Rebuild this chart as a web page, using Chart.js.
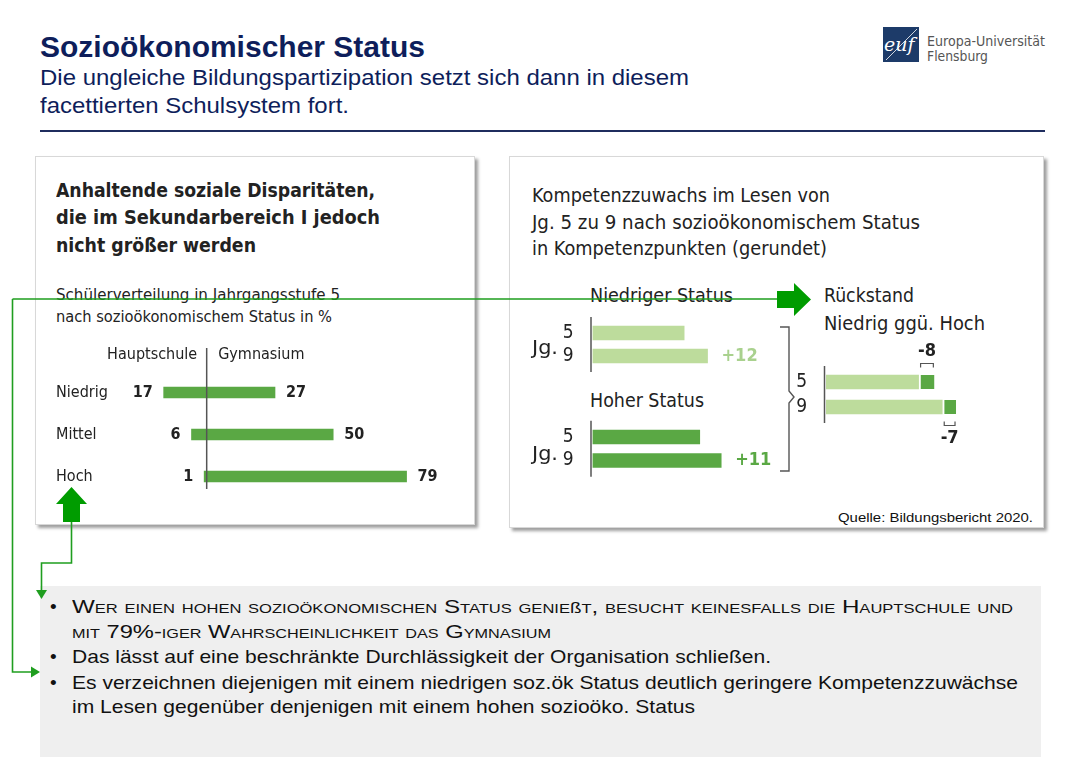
<!DOCTYPE html>
<html lang="de">
<head>
<meta charset="utf-8">
<title>Sozioökonomischer Status</title>
<script src="https://cdn.jsdelivr.net/npm/chart.js@4.4.1/dist/chart.umd.min.js"></script>
<style>
  body { margin: 0; width: 1067px; height: 769px; position: relative; overflow: hidden; background: #fff;
         font-family: "Liberation Sans", Arial, sans-serif; }
  .t { position: absolute; white-space: nowrap; line-height: 1; transform-origin: 0 50%; z-index: 3; }
  .c { font-family: "DejaVu Sans Condensed", "DejaVu Sans", sans-serif; color: #222; }
  .navy { color: #0e1e5b; }
  .box { position: absolute; box-sizing: border-box; background: #fff; border: 1px solid #d8d8d8;
         box-shadow: 3px 3px 3px rgba(0,0,0,.38); z-index: 1; }
  .cw { position: absolute; z-index: 2; }
  .sc { font-variant: small-caps; }
  .sz { font-variant: normal; font-size: 0.78em; }
  #overlay { position: absolute; left: 0; top: 0; z-index: 5; pointer-events: none; }
</style>
</head>
<body>

<!-- Kopf -->
<div class="t navy" style="left:40px;top:32.5px;font-size:29px;font-weight:bold" data-w="385">Sozioökonomischer Status</div>
<div class="t navy" style="left:40px;top:67px;font-size:22px" data-w="649">Die ungleiche Bildungspartizipation setzt sich dann in diesem</div>
<div class="t navy" style="left:40px;top:95px;font-size:22px" data-w="309">facettierten Schulsystem fort.</div>
<div style="position:absolute;left:40px;top:129.5px;width:1005px;height:2px;background:#1f2d5e"></div>

<div class="t c" style="left:927px;top:34px;font-size:14.5px;color:#555" data-w="118">Europa-Universität</div>
<div class="t c" style="left:927px;top:49px;font-size:14.5px;color:#555" data-w="61">Flensburg</div>

<!-- linke Grafik -->
<div class="box" style="left:35px;top:156px;width:440px;height:369px"></div>
<div class="t c" style="left:56px;top:180px;font-size:20px;font-weight:bold" data-w="319">Anhaltende soziale Disparitäten,</div>
<div class="t c" style="left:56px;top:207px;font-size:20px;font-weight:bold" data-w="324">die im Sekundarbereich I jedoch</div>
<div class="t c" style="left:56px;top:235px;font-size:20px;font-weight:bold" data-w="200">nicht größer werden</div>
<div class="t c" style="left:56px;top:287px;font-size:16px" data-w="284">Schülerverteilung in Jahrgangsstufe 5</div>
<div class="t c" style="left:56px;top:309px;font-size:16px" data-w="276">nach sozioökonomischem Status in %</div>
<div class="cw" style="left:50px;top:340px;width:410px;height:160px"><canvas id="verteilung"></canvas></div>

<!-- rechte Grafik -->
<div class="box" style="left:509px;top:156px;width:535px;height:372px"></div>
<div class="t c" style="left:532px;top:185.5px;font-size:19px" data-w="298">Kompetenzzuwachs im Lesen von</div>
<div class="t c" style="left:532px;top:212.5px;font-size:19px" data-w="388">Jg. 5 zu 9 nach sozioökonomischem Status</div>
<div class="t c" style="left:532px;top:238.5px;font-size:19px" data-w="295">in Kompetenzpunkten (gerundet)</div>
<div class="t c" style="left:590px;top:285.5px;font-size:19px" data-w="143">Niedriger Status</div>
<div class="t c" style="left:590px;top:390.5px;font-size:19px" data-w="114">Hoher Status</div>
<div class="t c" style="left:532px;top:337.5px;font-size:19px" data-w="26">Jg.</div>
<div class="t c" style="left:532px;top:443.5px;font-size:19px" data-w="26">Jg.</div>
<div class="t c" style="left:823.5px;top:285.5px;font-size:19px" data-w="90">Rückstand</div>
<div class="t c" style="left:823.5px;top:313.5px;font-size:19px" data-w="161">Niedrig ggü. Hoch</div>
<div class="cw" style="left:520px;top:315px;width:270px;height:60px"><canvas id="niedrig"></canvas></div>
<div class="cw" style="left:520px;top:418px;width:270px;height:60px"><canvas id="hoch"></canvas></div>
<div class="cw" style="left:790px;top:335px;width:250px;height:115px"><canvas id="rueckstand"></canvas></div>
<div class="t" style="left:838px;top:510.5px;font-size:13px;color:#111" data-w="195">Quelle: Bildungsbericht 2020.</div>

<!-- Stichpunkte -->
<div style="position:absolute;left:40px;top:586px;width:1001px;height:171px;background:#efefef"></div>
<div class="t" style="left:50px;top:596.5px;font-size:19px;color:#111">•</div>
<div class="t sc" style="left:72px;top:596.5px;font-size:19px;color:#111" data-w="941">Wer einen hohen sozioökonomischen Status genie<span class="sz">ß</span>t, besucht keinesfalls die Hauptschule und</div>
<div class="t sc" style="left:72px;top:621.5px;font-size:19px;color:#111" data-w="479">mit 79%-iger Wahrscheinlichkeit das Gymnasium</div>
<div class="t" style="left:50px;top:646.5px;font-size:19px;color:#111">•</div>
<div class="t" style="left:72px;top:646.5px;font-size:19px;color:#111" data-w="699">Das lässt auf eine beschränkte Durchlässigkeit der Organisation schließen.</div>
<div class="t" style="left:50px;top:672.5px;font-size:19px;color:#111">•</div>
<div class="t" style="left:72px;top:672.5px;font-size:19px;color:#111" data-w="946">Es verzeichnen diejenigen mit einem niedrigen soz.ök Status deutlich geringere Kompetenzzuwächse</div>
<div class="t" style="left:72px;top:696.5px;font-size:19px;color:#111" data-w="623">im Lesen gegenüber denjenigen mit einem hohen sozioöko. Status</div>

<svg id="overlay" width="1067" height="769">
  <!-- Logo -->
  <rect x="883" y="27" width="36" height="35" fill="#1d3b69"/>
  <text x="884" y="51" font-family="DejaVu Serif" font-style="italic" font-size="19" fill="#fff">euf</text>
  <line x1="886" y1="60" x2="917" y2="29" stroke="#fff" stroke-width="0.8"/>
  <!-- Klammer zwischen den Gruppen -->
  <path d="M780 327 H789 V391 L794 397 L789 403 V471 H780" fill="none" stroke="#555" stroke-width="1.4"/>
  <!-- Verbindungslinien -->
  <path d="M71.5 522 V563 H41.5 V591" fill="none" stroke="#1f9e1f" stroke-width="1.6"/>
  <polygon points="36,590 47,590 41.5,599" fill="#1f9e1f"/>
  <path d="M12.5 299 H777 M12.5 299 V672 H32" fill="none" stroke="#1f9e1f" stroke-width="1.6"/>
  <polygon points="31,666.5 31,677.5 40,672" fill="#1f9e1f"/>
  <polygon points="71.5,487 87,504 80,504 80,522 63,522 63,504 56,504" fill="#009c00"/>
  <polygon points="777,291 794,291 794,283 811,299.5 794,316 794,308 777,308" fill="#009c00"/>
</svg>

<script>
// Schülerverteilung Jg. 5 nach sozioökonomischem Status (in %)
const statusLabels = ['Niedrig', 'Mittel', 'Hoch'];
const schulformen = ['Hauptschule', 'Gymnasium'];
const hauptschule = [17, 6, 1];
const gymnasium = [27, 50, 79];

// Kompetenzzuwachs Lesen, Jg. 5 -> 9 (Kompetenzpunkte)
const jgLabels = ['5', '9'];
const niedrigPunkte = [47, 59];
const hochPunkte = [55, 66];
const zuwachs = ['+12', '+11'];
const rueckstand = [-8, -7];

const FONT = "'DejaVu Sans Condensed', 'DejaVu Sans', sans-serif";
const gruen = '#5aa844';
const hellgruen = '#bddc9c';

Chart.defaults.font.family = FONT;
Chart.defaults.animation = false;
Chart.defaults.responsive = true;
Chart.defaults.maintainAspectRatio = false;
Chart.defaults.plugins.legend.display = false;
Chart.defaults.plugins.tooltip.enabled = false;

// y-Achse mit fester Breite, ohne Zusatzabstand oben/unten fuer die Beschriftung
function festeAchse(breite) {
  return s => {
    s.width = breite;
    s.paddingTop = 0;
    s.paddingBottom = 0;
  };
}

//<---------- linke Grafik: Hauptschule | Gymnasium ---------->
const verteilungLabels = {
  id: 'verteilungLabels',
  afterDatasetsDraw(chart) {
    const {ctx, chartArea, scales: {x, y}} = chart;
    const x0 = x.getPixelForValue(0);
    ctx.save();
    ctx.strokeStyle = '#555';
    ctx.lineWidth = 1.5;
    ctx.beginPath();
    ctx.moveTo(x0, chartArea.top - 23.5);
    ctx.lineTo(x0, chartArea.bottom - 8.5);
    ctx.stroke();

    ctx.fillStyle = '#222';
    ctx.textBaseline = 'middle';
    ctx.font = '16px ' + FONT;
    ctx.textAlign = 'right';
    ctx.fillText(schulformen[0], x0 - 9.5, chartArea.top - 16.5);
    ctx.textAlign = 'left';
    ctx.fillText(schulformen[1], x0 + 11.5, chartArea.top - 16.5);

    ctx.font = 'bold 16px ' + FONT;
    statusLabels.forEach((s, i) => {
      const yy = y.getPixelForValue(i);
      ctx.textAlign = 'right';
      ctx.fillText(hauptschule[i], x.getPixelForValue(-hauptschule[i]) - 11, yy);
      ctx.textAlign = 'left';
      ctx.fillText(gymnasium[i], x.getPixelForValue(gymnasium[i]) + 11, yy);
    });
    ctx.restore();
  }
};

new Chart(document.getElementById('verteilung'), {
  type: 'bar',
  data: {
    labels: statusLabels,
    datasets: [{
      data: statusLabels.map((s, i) => [-hauptschule[i], gymnasium[i]]),
      backgroundColor: gruen,
      barThickness: 11
    }]
  },
  options: {
    indexAxis: 'y',
    layout: { padding: { left: 6, right: 25.6, top: 31.5, bottom: 2.5 } },
    scales: {
      x: { min: -36, max: 90, display: false },
      y: {
        grid: { display: false },
        border: { display: false },
        ticks: { crossAlign: 'far', autoSkip: false, color: '#222', font: { size: 16 } },
        afterFit: festeAchse(59.6)
      }
    }
  },
  plugins: [verteilungLabels]
});

//<---------- rechte Grafik: Niedriger / Hoher Status ---------->
function kompetenzChart(id, werte, farbe, gewinn, gewinnFarbe, pad) {
  return new Chart(document.getElementById(id), {
    type: 'bar',
    data: {
      labels: jgLabels,
      datasets: [{ data: werte, backgroundColor: farbe, barThickness: 14 }]
    },
    options: {
      indexAxis: 'y',
      layout: { padding: pad },
      scales: {
        x: { min: 0, max: 100, display: false },
        y: {
          grid: { display: false },
          border: { display: false },
          ticks: { padding: 11, autoSkip: false, color: '#222', font: { size: 19 } },
          afterFit: festeAchse(72.5)
        }
      }
    },
    plugins: [{
      id: 'achse',
      afterDatasetsDraw(chart) {
        const {ctx, chartArea, scales: {x, y}} = chart;
        ctx.save();
        ctx.strokeStyle = '#555';
        ctx.lineWidth = 1.5;
        ctx.beginPath();
        ctx.moveTo(chartArea.left - 1.5, chartArea.top - 4.5);
        ctx.lineTo(chartArea.left - 1.5, chartArea.bottom + 4.5);
        ctx.stroke();
        ctx.fillStyle = gewinnFarbe;
        ctx.font = 'bold 18px ' + FONT;
        ctx.textBaseline = 'middle';
        ctx.textAlign = 'left';
        ctx.fillText(gewinn, x.getPixelForValue(werte[1]) + 14, y.getPixelForValue(1));
        ctx.restore();
      }
    }]
  });
}

kompetenzChart('niedrig', niedrigPunkte, hellgruen, zuwachs[0], '#a9d18e',
  { top: 6.5, bottom: 7.5, right: 2.5 });
kompetenzChart('hoch', hochPunkte, gruen, zuwachs[1], gruen,
  { top: 7.25, bottom: 5.75, right: 2.5 });

//<---------- rechte Grafik: Rückstand Niedrig ggü. Hoch ---------->
const rueckstandLabels = {
  id: 'rueckstandLabels',
  afterDatasetsDraw(chart) {
    const {ctx, chartArea, scales: {x, y}} = chart;
    ctx.save();
    ctx.strokeStyle = '#555';
    ctx.lineWidth = 1.5;
    ctx.beginPath();
    ctx.moveTo(chartArea.left - 1.5, chartArea.top - 3.5);
    ctx.lineTo(chartArea.left - 1.5, chartArea.bottom + 3.5);
    ctx.stroke();

    ctx.fillStyle = '#222';
    ctx.font = 'bold 18px ' + FONT;
    ctx.textAlign = 'center';
    ctx.textBaseline = 'middle';
    ctx.lineWidth = 1.2;
    jgLabels.forEach((jg, i) => {
      const a = x.getPixelForValue(niedrigPunkte[i]) + 2;
      const b = x.getPixelForValue(niedrigPunkte[i] - rueckstand[i]) - 1;
      const yy = y.getPixelForValue(i);
      const dir = i === 0 ? -1 : 1;
      ctx.beginPath();
      ctx.moveTo(a, yy + dir * 14.5);
      ctx.lineTo(a, yy + dir * 18.5);
      ctx.lineTo(b, yy + dir * 18.5);
      ctx.lineTo(b, yy + dir * 14.5);
      ctx.stroke();
      ctx.fillText(String(rueckstand[i]), (a + b) / 2, yy + dir * 31);
    });
    ctx.restore();
  }
};

new Chart(document.getElementById('rueckstand'), {
  type: 'bar',
  data: {
    labels: jgLabels,
    datasets: [
      { data: niedrigPunkte, backgroundColor: hellgruen, barThickness: 14 },
      { data: rueckstand.map(v => Math.abs(v)), backgroundColor: gruen, borderColor: '#fff',
        borderWidth: { left: 2.5 }, borderSkipped: false, barThickness: 14 }
    ]
  },
  options: {
    indexAxis: 'y',
    layout: { padding: { top: 34.5, bottom: 30.5, right: 17 } },
    scales: {
      x: { stacked: true, min: 0, max: 100, display: false },
      y: {
        stacked: true,
        grid: { display: false },
        border: { display: false },
        ticks: { padding: 11, autoSkip: false, color: '#222', font: { size: 19 } },
        afterFit: festeAchse(36)
      }
    }
  },
  plugins: [rueckstandLabels]
});

// Texte auf die Breite im Original bringen
document.querySelectorAll('.t[data-w]').forEach(el => {
  const k = parseFloat(el.dataset.w) / el.getBoundingClientRect().width;
  el.style.transform = 'scaleX(' + k + ')';
});
</script>
</body>
</html>
